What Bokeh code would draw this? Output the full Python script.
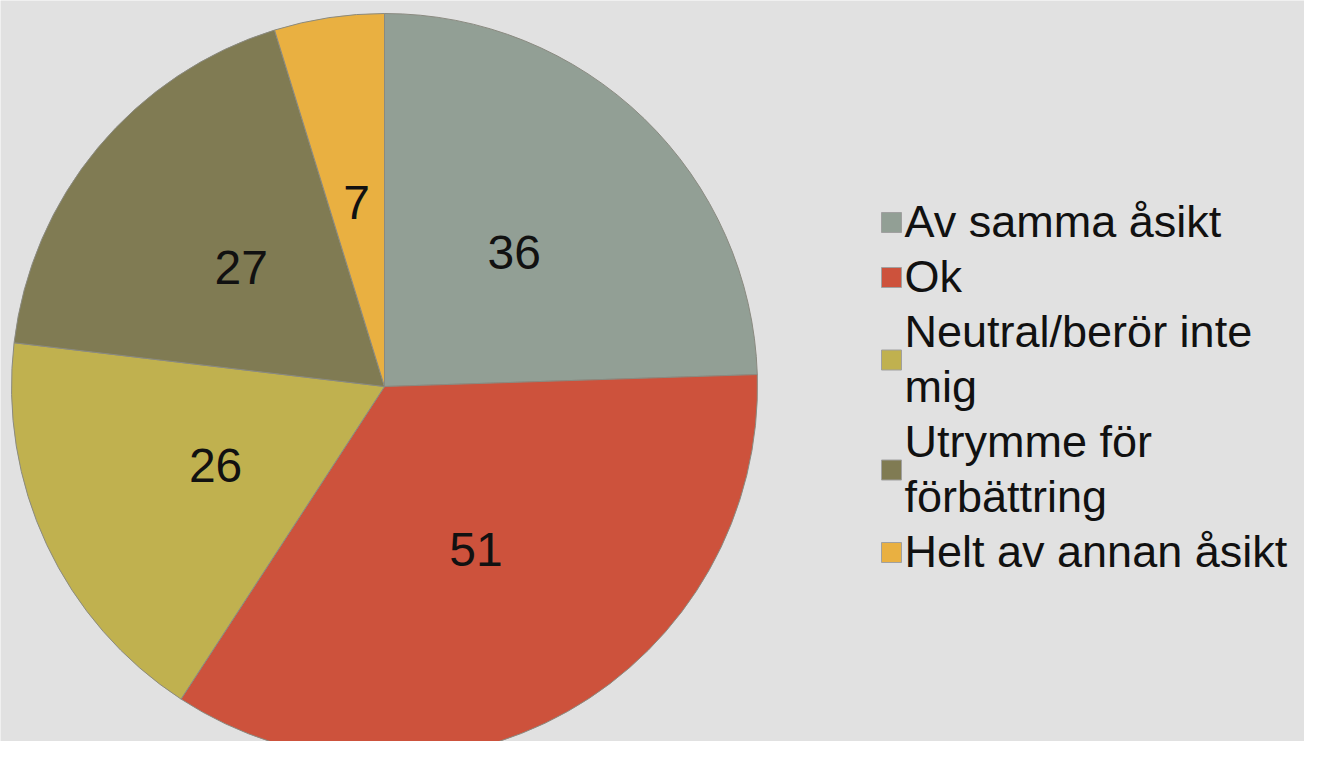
import numpy as np
from bokeh.plotting import figure
from bokeh.models import Range1d, ColumnDataSource
from bokeh.core.properties import value
from bokeh.embed import file_html
from bokeh.resources import INLINE

# ---- data ----
categories = ["Av samma åsikt", "Ok", "Neutral/berör inte mig", "Utrymme för förbättring", "Helt av annan åsikt"]
legend_lines = ["Av samma åsikt", "Ok", "Neutral/berör inte\nmig", "Utrymme för\nförbättring", "Helt av annan åsikt"]
counts = [36, 51, 26, 27, 7]
colors = ["#929f95", "#cd523c", "#c0b14f", "#807b53", "#e9b041"]

# ---- layout (screen pixels; y measured downward from top) ----
W, H = 1304, 741
BG = "#e1e1e1"
cx_pix, cy_pix, R = 384, 386, 373
FONT = "Liberation Sans"

def up(ypix):
    return 757 - ypix

p = figure(width=W, height=H, output_backend="svg", toolbar_location=None,
           x_range=Range1d(0, W), y_range=Range1d(757 - H, 757),
           min_border=0, background_fill_color=BG, border_fill_color=BG)
p.axis.visible = False
p.grid.visible = False
p.outline_line_color = None

vals = np.array(counts, dtype=float)
total = vals.sum()
cum = np.concatenate([[0.0], np.cumsum(vals)])
start = np.pi / 2 - cum[:-1] / total * 2 * np.pi
end = np.pi / 2 - cum[1:] / total * 2 * np.pi
mid = (start + end) / 2

src = ColumnDataSource(dict(start=start, end=end, color=colors, cat=categories))
p.wedge(x=cx_pix, y=up(cy_pix), radius=R, start_angle="start", end_angle="end",
        direction="clock", fill_color="color", line_color="#8a8a80", line_width=1,
        source=src)

lr = R * 0.5
lab = ColumnDataSource(dict(x=cx_pix + lr * np.cos(mid), y=up(cy_pix) + lr * np.sin(mid),
                            t=[str(c) for c in counts]))
p.text(x="x", y="y", text="t", source=lab, text_align="center", text_baseline="middle",
       text_font=value(FONT), text_font_size="48px", text_color="#111111")

# ---- legend drawn manually ----
center0, step = 221, 55
sq_x, sq = 891, 20
tx = 904
line = 0
lx, ly, lt = [], [], []
qx, qy = [], []
for lbl in legend_lines:
    parts = lbl.split("\n")
    ys = []
    for part in parts:
        yc = center0 + line * step
        ys.append(yc)
        lx.append(tx); ly.append(up(yc)); lt.append(part)
        line += 1
    qx.append(sq_x)
    qy.append(up(np.mean(ys) + 1))

p.rect(x=qx, y=qy, width=sq, height=sq, fill_color=colors, line_color="#a0a0a0", line_width=1)
p.text(x=lx, y=ly, text=lt, text_align="left", text_baseline="middle",
       text_font=value(FONT), text_font_size="45px", text_color="#111111")

open("out.html", "w").write(file_html(p, INLINE))
